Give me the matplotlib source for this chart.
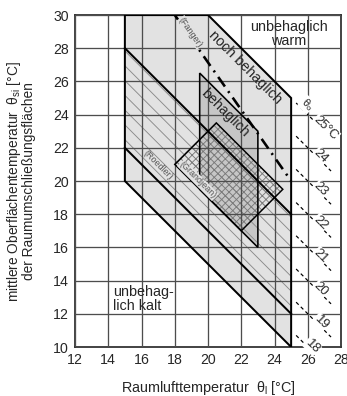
import matplotlib
matplotlib.use("Agg")
import matplotlib.pyplot as plt
from matplotlib.patches import Polygon
import numpy as np

# ---------------- data ----------------
x_ticks = [12, 14, 16, 18, 20, 22, 24, 26, 28]
y_ticks = [10, 12, 14, 16, 18, 20, 22, 24, 26, 28, 30]

# "noch behaglich" region (light grey)
noch_x = [15, 15, 20, 25, 25]
noch_y = [20, 30, 30, 25, 10]
# Roedler band (single hatch)
roed_x = [15, 15, 25, 25]
roed_y = [22, 28, 18, 12]
# "behaglich" region (darker grey)
beh_x = [19.5, 19.5, 23, 23]
beh_y = [19.5, 26.5, 23, 16]
# Grandjean region (cross hatch)
gj_x = [18, 20.5, 24.5, 22]
gj_y = [21, 23.5, 19.5, 17]
# Fanger line
fanger_x = [18, 25]
fanger_y = [30, 20]
# operative temperature isolines  (theta_l + theta_si = 2*theta_o)
theta_o = [25, 24, 23, 22, 21, 20, 19, 18]
theta_o_labels = ["25°C", "24", "23", "22", "21", "20", "19", "18"]
iso_x0, iso_x1 = 25.3, 27.4

# ---------------- style ----------------
DPI = 400 / 3
def pt(px):
    return px * 72 / DPI

plt.rcParams["font.family"] = ["Liberation Sans", "DejaVu Sans"]
plt.rcParams["mathtext.fontset"] = "custom"
plt.rcParams["mathtext.rm"] = "Liberation Sans"
plt.rcParams["mathtext.it"] = "Liberation Sans:italic"
plt.rcParams["hatch.linewidth"] = pt(0.9)

TXT = "#262626"
fig = plt.figure(figsize=(347.01 / DPI, 396.01 / DPI), dpi=DPI)
ax = fig.add_axes([75 / 347, 49 / 396, 266 / 347, 332 / 396])
ax.set_xlim(12, 28)
ax.set_ylim(10, 30)

# fills
ax.add_patch(Polygon(np.column_stack([noch_x, noch_y]), closed=True,
                     facecolor="#e2e2e2", edgecolor="none", zorder=1))
ax.add_patch(Polygon(np.column_stack([beh_x, beh_y]), closed=True,
                     facecolor="#c6c6c6", edgecolor="none", zorder=1.1))
ax.add_patch(Polygon(np.column_stack([roed_x, roed_y]), closed=True,
                     fill=False, edgecolor="#8a8a8a", linewidth=0,
                     hatch="\\\\\\", zorder=1.2))
ax.add_patch(Polygon(np.column_stack([gj_x, gj_y]), closed=True,
                     fill=False, edgecolor="#7a7a7a", linewidth=0,
                     hatch="xxxxxx", zorder=1.3))

# grid
ax.set_xticks(x_ticks)
ax.set_yticks(y_ticks)
ax.grid(True, color="#4d4d4d", linewidth=pt(1.3))
ax.set_axisbelow(False)
for s in ax.spines.values():
    s.set_linewidth(pt(1.8))
    s.set_color("#333333")
ax.tick_params(length=0, labelsize=pt(14.2), labelcolor=TXT, pad=pt(6))

# outlines
LW = pt(2.0)
ax.add_patch(Polygon(np.column_stack([noch_x, noch_y]), closed=True,
                     fill=False, edgecolor="black", linewidth=LW, zorder=3))
ax.plot([roed_x[0], roed_x[3]], [roed_y[0], roed_y[3]], color="black", lw=LW, zorder=3)
ax.plot([roed_x[1], roed_x[2]], [roed_y[1], roed_y[2]], color="black", lw=LW, zorder=3)
ax.add_patch(Polygon(np.column_stack([beh_x, beh_y]), closed=True,
                     fill=False, edgecolor="black", linewidth=pt(1.6), zorder=3))
ax.add_patch(Polygon(np.column_stack([gj_x, gj_y]), closed=True,
                     fill=False, edgecolor="black", linewidth=pt(1.5), zorder=3))

# Fanger dash-dot
ax.plot(fanger_x, fanger_y, color="black", lw=pt(2.6),
        linestyle=(0, (4.5, 2.2, 0.8, 2.2)), zorder=3.5)

# isolines
for t, lab in zip(theta_o, theta_o_labels):
    xs = np.array([iso_x0, iso_x1])
    ys = 2 * t - xs
    ax.plot(xs, ys, color="black", lw=pt(1.2), linestyle=(0, (3, 2.5)),
            zorder=3, clip_on=True)
    lx = 26.65 if t != 18 else 26.1
    if t == 25:
        lx = 26.95
    ax.text(lx + 0.15, 2 * t - lx + 0.15, lab, rotation=-45, ha="center",
            va="center", fontsize=pt(13), color=TXT, zorder=4,
            rotation_mode="anchor",
            bbox=dict(boxstyle="square,pad=0.05", fc="white", ec="none"))
ax.text(25.95, 24.6, r"θ$_{\mathrm{o}}$", rotation=-45, ha="center", va="center",
        fontsize=pt(11), color=TXT, zorder=4, rotation_mode="anchor",
        bbox=dict(boxstyle="square,pad=0.05", fc="white", ec="none"))

# region texts
ax.text(24.85, 28.85, "unbehaglich\nwarm", ha="center", va="center",
        fontsize=pt(14.4), color=TXT, linespacing=1.05, zorder=4)
ax.text(14.3, 12.9, "unbehag-\nlich kalt", ha="left", va="center",
        fontsize=pt(14.4), color=TXT, linespacing=1.05, zorder=4)
ax.text(22.25, 26.85, "noch behaglich", rotation=-45, ha="center", va="center",
        fontsize=pt(14.4), color=TXT, rotation_mode="anchor", zorder=4)
ax.text(21.0, 24.1, "behaglich", rotation=-45, ha="center", va="center",
        fontsize=pt(14.4), color=TXT, rotation_mode="anchor", zorder=4)
ax.text(18.95, 28.95, "(Fanger)", rotation=-55, ha="center", va="center",
        fontsize=pt(9), color="#555555", rotation_mode="anchor", zorder=4,
        bbox=dict(boxstyle="square,pad=0.05", fc="#e2e2e2", ec="none"))
ax.text(17.0, 20.95, "(Roedler)", rotation=-45, ha="center", va="center",
        fontsize=pt(9), color="#555555", rotation_mode="anchor", zorder=4)
ax.text(19.4, 20.05, "(Grandjean)", rotation=-45, ha="center", va="center",
        fontsize=pt(9), color="#555555", rotation_mode="anchor", zorder=4,
        bbox=dict(boxstyle="square,pad=0.05", fc="#e2e2e2", ec="none"))

# axis labels
fig.text(208 / 347, 1 - 388 / 396, r"Raumlufttemperatur  θ$_{\mathrm{l}}$ [°C]",
         ha="center", va="center", fontsize=pt(14.4), color=TXT)
fig.text(14 / 347, 1 - 181.5 / 396,
         r"mittlere Oberflächentemperatur  θ$_{\mathrm{si}}$ [°C]",
         ha="center", va="center", rotation=90, fontsize=pt(13.8), color=TXT)
fig.text(29 / 347, 1 - 181.5 / 396, "der Raumumschließungsflächen",
         ha="center", va="center", rotation=90, fontsize=pt(13.8), color=TXT)

fig.savefig("out.png", dpi=DPI)
